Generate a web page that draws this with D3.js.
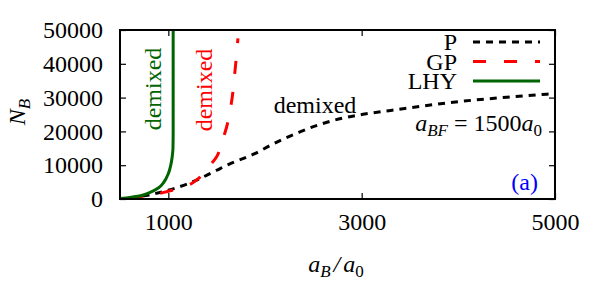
<!DOCTYPE html>
<html>
<head>
<meta charset="utf-8">
<script src="https://cdn.jsdelivr.net/npm/d3@7"></script>
</head>
<body style="margin:0; background:#fff">
<div id="chart"></div>
<script>
// data (a_B / a_0 , N_B)
const pCurve = [[600, 300], [800, 1200], [1000, 2600], [1200, 4500], [1330, 6100],
  [1500, 8500], [1620, 10200], [1750, 11700], [1900, 13500], [2050, 15800],
  [2200, 17900], [2350, 19700], [2500, 21400], [2650, 22800], [2800, 23900],
  [3000, 25000], [3300, 26200], [3500, 27000], [4000, 28800], [4500, 30100], [5000, 31200]];
const gpCurve = [[600, 200], [800, 1000], [1000, 2300], [1200, 4000], [1300, 5800],
  [1400, 9000], [1500, 12500], [1550, 16500], [1600, 21000], [1650, 28000],
  [1690, 38000], [1720, 47500]];
const lhyCurve = [[500, 150], [600, 450], [700, 900], [800, 1800], [900, 3300],
  [950, 4800], [1000, 7500], [1025, 10000], [1040, 12500], [1048, 15000],
  [1050, 20000], [1050, 50000]];
const xTicks = [1000, 3000, 5000];
const yTicks = [0, 10000, 20000, 30000, 40000, 50000];
const legendNames = ["P", "GP", "LHY"];

let width = 600, height = 300;
let mLeft = 120, mRight = 555, mTop = 30, mBottom = 199;
let serif = '"Liberation Serif"';

let svg = d3.select('#chart').append('svg')
    .attr('width', width)
    .attr('height', height);

let x = d3.scaleLinear().domain([500, 5000]).range([mLeft, mRight]);
let y = d3.scaleLinear().domain([0, 50000]).range([mBottom, mTop]);

// axes, ticks pointing inwards on all four sides
let gx = svg.append('g').attr('transform', `translate(0,${mBottom})`)
    .call(d3.axisBottom(x).tickValues(xTicks).tickSize(-6).tickPadding(14).tickFormat(d3.format('d')));
let gxTop = svg.append('g').attr('transform', `translate(0,${mTop})`)
    .call(d3.axisTop(x).tickValues(xTicks).tickSize(-6).tickFormat(''));
let gy = svg.append('g').attr('transform', `translate(${mLeft},0)`)
    .call(d3.axisLeft(y).tickValues(yTicks).tickSize(-6).tickPadding(17).tickFormat(d3.format('d')));
let gyRight = svg.append('g').attr('transform', `translate(${mRight},0)`)
    .call(d3.axisRight(y).tickValues(yTicks).tickSize(-6).tickFormat(''));

[gx, gxTop, gy, gyRight].forEach(g => {
    g.select('.domain').remove();
    g.selectAll('line').attr('stroke', '#000').attr('stroke-width', 1.2);
    g.selectAll('text').attr('fill', '#000');
});

// curves
let lineX = d3.line().x(d => x(d[0])).y(d => y(d[1])).curve(d3.curveMonotoneX);
let lineY = d3.line().x(d => x(d[0])).y(d => y(d[1])).curve(d3.curveMonotoneY);

svg.append('path').attr('d', lineX(pCurve))
    .attr('fill', 'none').attr('stroke', '#000').attr('stroke-width', 3)
    .attr('stroke-dasharray', '7,6');
svg.append('path').attr('d', lineY(gpCurve))
    .attr('fill', 'none').attr('stroke', '#ff0000').attr('stroke-width', 3)
    .attr('stroke-dasharray', '13,18');
svg.append('path').attr('d', lineY(lhyCurve))
    .attr('fill', 'none').attr('stroke', '#006400').attr('stroke-width', 3);

// border
svg.append('rect')
    .attr('x', mLeft).attr('y', mTop)
    .attr('width', mRight - mLeft).attr('height', mBottom - mTop)
    .attr('fill', 'none').attr('stroke', '#000').attr('stroke-width', 2);

// legend
let legendStyles = [
    { color: '#000', dash: '7,6' },
    { color: '#ff0000', dash: '13,18' },
    { color: '#006400', dash: null }
];
legendNames.forEach((name, i) => {
    let ly = 42 + 19.5 * i;
    svg.append('text').attr('x', 457).attr('y', ly + 8)
        .attr('text-anchor', 'end').text(name);
    svg.append('line')
        .attr('x1', 473).attr('x2', 540).attr('y1', ly).attr('y2', ly)
        .attr('stroke', legendStyles[i].color).attr('stroke-width', 3)
        .attr('stroke-dasharray', legendStyles[i].dash);
});

// annotations
svg.append('text').attr('transform', 'translate(161,89) rotate(-90)')
    .attr('text-anchor', 'middle').attr('fill', '#006400').text('demixed');
svg.append('text').attr('transform', 'translate(212,90) rotate(-90)')
    .attr('text-anchor', 'middle').attr('fill', '#ff0000').text('demixed');
svg.append('text').attr('x', 315).attr('y', 113)
    .attr('text-anchor', 'middle').text('demixed');

let abf = svg.append('text').attr('x', 542).attr('y', 131)
    .attr('text-anchor', 'end');
abf.append('tspan').attr('font-style', 'italic').text('a');
abf.append('tspan').attr('font-style', 'italic').attr('class', 'sub').attr('dy', 5).text('BF');
abf.append('tspan').attr('dy', -5).text(' = 1500');
abf.append('tspan').attr('font-style', 'italic').text('a');
abf.append('tspan').attr('class', 'sub').attr('dy', 5).text('0');

svg.append('text').attr('x', 538).attr('y', 190)
    .attr('text-anchor', 'end').attr('fill', '#0000ff').text('(a)');

// axis titles
let xl = svg.append('text').attr('x', 336).attr('y', 272)
    .attr('text-anchor', 'middle').attr('font-style', 'italic');
xl.append('tspan').text('a');
xl.append('tspan').attr('class', 'sub').attr('dy', 5).text('B');
xl.append('tspan').attr('dy', -5).attr('dx', 3).text('/');
xl.append('tspan').attr('dx', 3).text('a');
xl.append('tspan').attr('class', 'sub').attr('font-style', 'normal').attr('dy', 5).text('0');

let yl = svg.append('text').attr('transform', 'translate(25,112) rotate(-90)')
    .attr('text-anchor', 'middle').attr('font-style', 'italic');
yl.append('tspan').text('N');
yl.append('tspan').attr('class', 'sub').attr('dy', 5).text('B');

// one serif face for every text
svg.selectAll('text').style('font-family', serif).style('font-size', '24px');
svg.selectAll('tspan.sub').style('font-size', '17px');
</script>
</body>
</html>
